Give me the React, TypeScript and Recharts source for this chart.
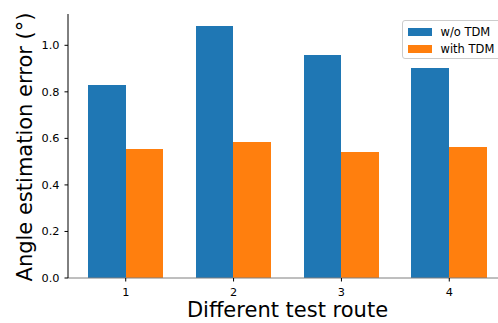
import React from "react";
import { BarChart, Bar, XAxis, YAxis } from "recharts";

const routes = ["1", "2", "3", "4"];
const withoutTdm = [0.828, 1.082, 0.957, 0.901];
const withTdm = [0.553, 0.583, 0.54, 0.563];
const yTicks = [0, 0.2, 0.4, 0.6, 0.8, 1.0];
const yMax = 1.1345;

const seriesNames = ["w/o TDM", "with TDM"];
const seriesColors = ["#1f77b4", "#ff7f0e"];

const data = routes.map((r, i) => ({
  route: r,
  a: withoutTdm[i],
  b: withTdm[i],
}));

const FONT = "DejaVu Sans, Verdana, sans-serif";

const LegendBox = () => (
  <div
    style={{
      position: "absolute",
      left: 401.5,
      top: 20,
      height: 38.5,
      border: "1px solid #cccccc",
      borderRadius: 3,
      background: "rgba(255,255,255,0.8)",
      padding: "3px 6px 0 5px",
      fontFamily: FONT,
      fontSize: 11.5,
      color: "#000",
      lineHeight: "16.7px",
      width: 104,
      boxSizing: "border-box",
    }}
  >
    {seriesNames.map((n, i) => (
      <div key={n} style={{ display: "flex", alignItems: "center", whiteSpace: "nowrap" }}>
        <span
          style={{
            display: "inline-block",
            width: 24,
            height: 8,
            background: seriesColors[i],
            marginRight: 9,
          }}
        />
        {n}
      </div>
    ))}
  </div>
);

export default function App() {
  return (
    <div
      style={{
        position: "fixed",
        left: 0,
        top: 0,
        width: 498,
        height: 323,
        overflow: "hidden",
        background: "#fff",
      }}
    >
      <BarChart
        width={520}
        height={323}
        data={data}
        margin={{ top: 14, right: 13, bottom: 0, left: 0 }}
        barGap={0}
        barSize={37.7}
      >
        <XAxis
          dataKey="route"
          height={45}
          padding={{ left: 3.8, right: 3.8 }}
          axisLine={{ stroke: "#7f7f7f", strokeWidth: 1 }}
          tickLine={{ stroke: "#000" }}
          tickSize={3.5}
          tickMargin={6}
          tick={{ fill: "#000", fontSize: 11.3, fontFamily: FONT }}
          label={{
            content: () => (
              <text x={287.5} y={317} textAnchor="middle" fontSize={21} fontFamily={FONT} fill="#000">
                Different test route
              </text>
            ),
          }}
        />
        <XAxis
          xAxisId="top"
          orientation="top"
          dataKey="route"
          height={0}
          tick={false}
          tickLine={false}
          axisLine={{ stroke: "#000", strokeWidth: 1 }}
        />
        <YAxis
          width={68}
          type="number"
          domain={[0, yMax]}
          allowDataOverflow
          ticks={yTicks}
          tickFormatter={(v: number) => v.toFixed(1)}
          axisLine={{ stroke: "#000", strokeWidth: 1 }}
          tickLine={{ stroke: "#000" }}
          tickSize={3.5}
          tickMargin={5}
          tick={{ fill: "#000", fontSize: 11.3, fontFamily: FONT }}
          label={{
            content: () => (
              <text
                x={32.3}
                y={147}
                transform="rotate(-90 32.3 147)"
                textAnchor="middle"
                fontSize={21}
                fontFamily={FONT}
                fill="#000"
              >
                Angle estimation error (°)
              </text>
            ),
          }}
        />
        <Bar
          dataKey="a"
          name={seriesNames[0]}
          fill={seriesColors[0]}
          shapeRendering="crispEdges"
          isAnimationActive={false}
        />
        <Bar
          dataKey="b"
          name={seriesNames[1]}
          fill={seriesColors[1]}
          shapeRendering="crispEdges"
          isAnimationActive={false}
        />
      </BarChart>
      <LegendBox />
    </div>
  );
}
